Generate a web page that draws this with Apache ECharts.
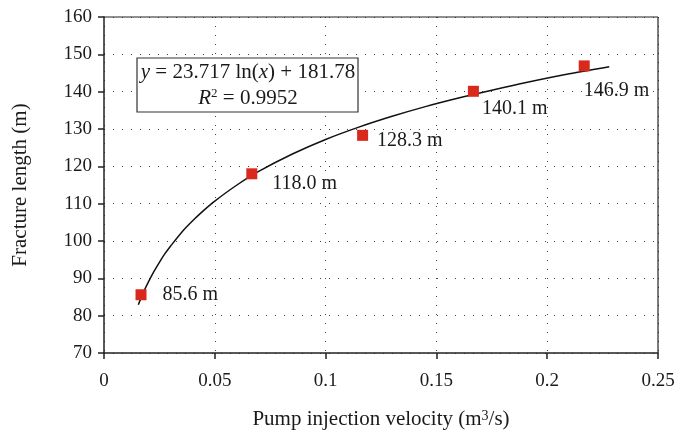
<!DOCTYPE html>
<html>
<head>
<meta charset="utf-8">
<script src="https://cdn.jsdelivr.net/npm/echarts@6/dist/echarts.min.js"></script>
<style>
  html, body { margin: 0; padding: 0; background: #fff; }
  #chart { width: 675px; height: 434px; }
</style>
</head>
<body>
<div id="chart"></div>
<script>
// measured points
const velocity = [0.0167, 0.0667, 0.1167, 0.1667, 0.2167];
const fractureLength = [85.6, 118.0, 128.3, 140.1, 146.9];
// label nudges for each point label (px)
const labelOffsets = [[11, 0], [10, 10], [4, 5], [-2, 17], [-11, 25]];

// trend line
const curveX = [0.0155, 0.0175, 0.02, 0.0225, 0.025, 0.0275, 0.03, 0.035, 0.04, 0.045, 0.05, 0.06, 0.07, 0.085, 0.1, 0.115, 0.13, 0.145, 0.16, 0.175, 0.19, 0.21, 0.228];
const curveY = [82.9, 85.9, 89.0, 91.8, 94.3, 96.6, 98.6, 102.3, 105.4, 108.2, 110.7, 115.0, 118.7, 123.3, 127.2, 130.5, 133.4, 136.0, 138.3, 140.4, 142.4, 144.8, 146.7];

const FONT = 'Liberation Serif';
const TXT = '#1a1a1a';
const chart = echarts.init(document.getElementById('chart'));

const option = {
  animation: false,
  grid: { left: 104, right: 17, top: 17, bottom: 81, outerBoundsMode: 'none' },
  xAxis: {
    type: 'value',
    min: 0, max: 0.25, interval: 0.05,
    name: 'Pump injection velocity (m{sup|3}/s)',
    nameLocation: 'middle',
    nameGap: 56,
    nameTextStyle: {
      color: TXT, fontFamily: FONT, fontSize: 21,
      rich: { sup: { fontSize: 14, verticalAlign: 'top', padding: [0, 0, 6, 0], fontFamily: FONT, color: TXT } }
    },
    axisLine: { show: true, onZero: false, lineStyle: { color: '#222', width: 1.5 } },
    axisTick: { show: true, length: 6, lineStyle: { color: '#222', width: 1.5 } },
    axisLabel: { color: TXT, fontFamily: FONT, fontSize: 19, margin: 19 },
    splitLine: { show: true, lineStyle: { color: '#444', type: [1, 8], width: 1 } }
  },
  yAxis: {
    type: 'value',
    min: 70, max: 160, interval: 10,
    name: 'Fracture length (m)',
    nameLocation: 'middle',
    nameGap: 73,
    nameTextStyle: { color: TXT, fontFamily: FONT, fontSize: 21 },
    axisLine: { show: true, onZero: false, lineStyle: { color: '#222', width: 1.5 } },
    axisTick: { show: true, length: 6, lineStyle: { color: '#222', width: 1.5 } },
    axisLabel: { color: TXT, fontFamily: FONT, fontSize: 19, margin: 12 },
    splitLine: { show: true, lineStyle: { color: '#444', type: [1, 8], width: 1 } }
  },
  graphic: [
    // frame on top and right
    { type: 'line', shape: { x1: 104, y1: 17, x2: 658, y2: 17 }, style: { stroke: '#222', lineWidth: 1.2 }, z: 10 },
    { type: 'line', shape: { x1: 658, y1: 17, x2: 658, y2: 353 }, style: { stroke: '#222', lineWidth: 1.2 }, z: 10 },
    {
      type: 'rect', shape: { x: 137, y: 58, width: 221, height: 54 },
      style: { fill: '#fff', stroke: '#333', lineWidth: 1.2 }, z: 20
    },
    {
      type: 'text', x: 248, y: 72, z: 21,
      style: {
        text: '{i|y} = 23.717 ln({i|x}) + 181.78',
        fontFamily: FONT, fontSize: 21, fill: TXT,
        align: 'center', verticalAlign: 'middle',
        rich: { i: { fontStyle: 'italic', fontFamily: FONT, fontSize: 21, fill: TXT } }
      }
    },
    {
      type: 'text', x: 248, y: 98, z: 21,
      style: {
        text: '{i|R}{s|2} = 0.9952',
        fontFamily: FONT, fontSize: 21, fill: TXT,
        align: 'center', verticalAlign: 'middle',
        rich: {
          i: { fontStyle: 'italic', fontFamily: FONT, fontSize: 21, fill: TXT },
          s: { fontFamily: FONT, fontSize: 13, fill: TXT, verticalAlign: 'top', padding: [0, 0, 9, 0] }
        }
      }
    }
  ],
  series: [
    {
      type: 'line',
      data: curveX.map((x, i) => [x, curveY[i]]),
      smooth: 0.3,
      showSymbol: false,
      lineStyle: { color: '#111', width: 1.5 },
      z: 3
    },
    {
      type: 'scatter',
      symbol: 'rect',
      symbolSize: 11,
      itemStyle: { color: '#d9291d', opacity: 1 },
      data: velocity.map((x, i) => ({
        value: [x, fractureLength[i]],
        label: {
          show: true,
          position: 'right',
          distance: 5,
          offset: labelOffsets[i],
          formatter: fractureLength[i].toFixed(1) + ' m',
          fontFamily: FONT,
          fontSize: 20,
          color: TXT
        }
      })),
      z: 4
    }
  ]
};

chart.setOption(option);
</script>
</body>
</html>
